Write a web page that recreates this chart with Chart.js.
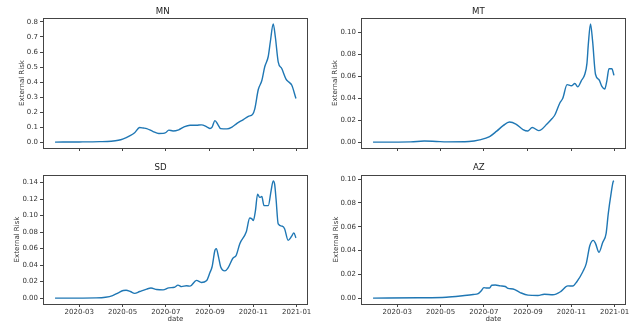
<!DOCTYPE html>
<html lang="en">
<head>
    <meta charset="UTF-8">
    <title>External Risk</title>
    <script src="https://cdn.jsdelivr.net/npm/chart.js@4.4.0/dist/chart.umd.min.js"></script>
    <style>
        body { margin: 0; background: #fff; }
        .panel { position: absolute; width: 320px; }
        .top { top: 0; height: 160px; }
        .bottom { top: 160px; height: 163px; }
        .left { left: 0; }
        .right { left: 320px; }
    </style>
</head>
<body>
    <div class="panel top left"><canvas id="mnChart"></canvas></div>
    <div class="panel top right"><canvas id="mtChart"></canvas></div>
    <div class="panel bottom left"><canvas id="sdChart"></canvas></div>
    <div class="panel bottom right"><canvas id="azChart"></canvas></div>

    <script>
        const xTickLabels = ['2020-03', '2020-05', '2020-07', '2020-09', '2020-11', '2021-01'];

        const mnDates = ['2020-01-27', '2020-03-01', '2020-03-30', '2020-04-15', '2020-04-25', '2020-05-02', '2020-05-11', '2020-05-18', '2020-05-25', '2020-05-30',
            '2020-06-04', '2020-06-13', '2020-06-21', '2020-06-27', '2020-07-01', '2020-07-05', '2020-07-11', '2020-07-19', '2020-07-26', '2020-08-04',
            '2020-08-13', '2020-08-20', '2020-08-28', '2020-09-01', '2020-09-04', '2020-09-08', '2020-09-12', '2020-09-16', '2020-09-25', '2020-10-02',
            '2020-10-09', '2020-10-18', '2020-10-25', '2020-10-31', '2020-11-03', '2020-11-08', '2020-11-13', '2020-11-17', '2020-11-22', '2020-11-25',
            '2020-11-29', '2020-12-02', '2020-12-06', '2020-12-11', '2020-12-17', '2020-12-21', '2020-12-25', '2020-12-31'];
        const mnRisk = [0, 0.001, 0.003, 0.006, 0.012, 0.022, 0.042, 0.062, 0.097, 0.094,
            0.090, 0.070, 0.057, 0.058, 0.064, 0.080, 0.074, 0.082, 0.100, 0.112,
            0.112, 0.115, 0.100, 0.091, 0.100, 0.143, 0.118, 0.090, 0.088, 0.100,
            0.125, 0.150, 0.172, 0.185, 0.220, 0.350, 0.410, 0.500, 0.570, 0.670,
            0.787, 0.700, 0.535, 0.490, 0.420, 0.400, 0.380, 0.290];

        const mtDates = ['2020-01-27', '2020-03-20', '2020-04-08', '2020-04-25', '2020-05-10', '2020-06-10', '2020-06-25', '2020-07-09', '2020-07-19', '2020-07-28',
            '2020-08-06', '2020-08-15', '2020-08-25', '2020-09-01', '2020-09-07', '2020-09-16', '2020-09-20', '2020-09-27', '2020-10-05', '2020-10-09',
            '2020-10-16', '2020-10-20', '2020-10-26', '2020-11-01', '2020-11-06', '2020-11-10', '2020-11-15', '2020-11-20', '2020-11-23', '2020-11-25',
            '2020-11-28', '2020-12-01', '2020-12-05', '2020-12-10', '2020-12-14', '2020-12-18', '2020-12-21', '2020-12-24', '2020-12-28', '2020-12-31'];
        const mtRisk = [0, 0.0002, 0.0010, 0.0006, 0.0002, 0.0005, 0.0020, 0.0050, 0.0100, 0.0150,
            0.0183, 0.0165, 0.0115, 0.0102, 0.0134, 0.0105, 0.0115, 0.0160, 0.0215, 0.0250,
            0.0360, 0.0400, 0.0525, 0.0515, 0.0535, 0.0505, 0.0560, 0.0620, 0.0720, 0.0900,
            0.1080, 0.0920, 0.0620, 0.0570, 0.0510, 0.0485, 0.0560, 0.0670, 0.0670, 0.0610];

        const sdDates = ['2020-01-27', '2020-03-25', '2020-04-07', '2020-04-17', '2020-04-25', '2020-05-02', '2020-05-06', '2020-05-12', '2020-05-18', '2020-05-25',
            '2020-06-04', '2020-06-10', '2020-06-18', '2020-06-27', '2020-07-05', '2020-07-13', '2020-07-18', '2020-07-23', '2020-07-30', '2020-08-04',
            '2020-08-13', '2020-08-20', '2020-08-27', '2020-09-01', '2020-09-04', '2020-09-08', '2020-09-10', '2020-09-13', '2020-09-16', '2020-09-22',
            '2020-09-26', '2020-10-03', '2020-10-08', '2020-10-13', '2020-10-22', '2020-10-27', '2020-10-30', '2020-11-01', '2020-11-04', '2020-11-07',
            '2020-11-10', '2020-11-13', '2020-11-16', '2020-11-22', '2020-11-26', '2020-11-29', '2020-12-01', '2020-12-03', '2020-12-06', '2020-12-12',
            '2020-12-15', '2020-12-20', '2020-12-25', '2020-12-28', '2020-12-31'];
        const sdRisk = [0, 0.0003, 0.001, 0.003, 0.0065, 0.0092, 0.0095, 0.008, 0.0058, 0.008,
            0.0110, 0.0122, 0.0105, 0.0100, 0.0125, 0.0132, 0.0158, 0.0140, 0.0150, 0.0145,
            0.0215, 0.0190, 0.0210, 0.0310, 0.0380, 0.0580, 0.0600, 0.0500, 0.0380, 0.0330,
            0.0360, 0.0480, 0.0520, 0.0660, 0.0800, 0.0970, 0.0960, 0.0940, 0.1060, 0.1260,
            0.1220, 0.1230, 0.1120, 0.1120, 0.1300, 0.1420, 0.1380, 0.1200, 0.0900, 0.0870,
            0.0840, 0.0700, 0.0750, 0.0790, 0.0730];

        const azDates = ['2020-01-27', '2020-03-30', '2020-05-09', '2020-06-01', '2020-06-16', '2020-06-23', '2020-06-27', '2020-07-01', '2020-07-05', '2020-07-09',
            '2020-07-12', '2020-07-17', '2020-07-24', '2020-07-31', '2020-08-04', '2020-08-11', '2020-08-21', '2020-09-01', '2020-09-15', '2020-09-24',
            '2020-10-06', '2020-10-17', '2020-10-27', '2020-11-03', '2020-11-09', '2020-11-17', '2020-11-22', '2020-11-27', '2020-12-02', '2020-12-05',
            '2020-12-10', '2020-12-15', '2020-12-20', '2020-12-23', '2020-12-27', '2020-12-30', '2020-12-31'];
        const azRisk = [0, 0.0003, 0.0008, 0.0020, 0.0030, 0.0038, 0.0060, 0.0088, 0.0085, 0.0085,
            0.0108, 0.0110, 0.0103, 0.0098, 0.0082, 0.0077, 0.0047, 0.0025, 0.0022, 0.0033,
            0.0028, 0.0055, 0.0103, 0.0102, 0.0140, 0.0220, 0.0290, 0.0440, 0.0485, 0.0460,
            0.0385, 0.0465, 0.0545, 0.0710, 0.0880, 0.0980, 0.0985];

        // days since 2020-01-01
        const dayOf = s => (Date.UTC(+s.slice(0, 4), +s.slice(5, 7) - 1, +(s.slice(8, 10) || 1)) - Date.UTC(2020, 0, 1)) / 864e5;

        const allDays = [mnDates, mtDates, sdDates, azDates].flat().map(dayOf);
        const dMin = Math.min(...allDays), dMax = Math.max(...allDays);
        const xMargin = (dMax - dMin) * 0.05;

        const tickFont = { family: 'DejaVu Sans', size: 7 };
        const labelFont = { family: 'DejaVu Sans', size: 7, lineHeight: 1.2 };

        const frame = {
            id: 'frame',
            afterDatasetsDraw(chart) {
                const { ctx, chartArea: a } = chart;
                ctx.save();
                ctx.strokeStyle = '#444';
                ctx.lineWidth = 1;
                ctx.strokeRect(Math.round(a.left) + 0.5, Math.round(a.top) + 0.5,
                    Math.round(a.right - a.left) - 1, Math.round(a.bottom - a.top));
                ctx.restore();
            }
        };

        const createPanel = (id, title, dates, risk, o) => {
            const yMax = Math.max(...risk), yMin = Math.min(...risk);
            const yMargin = (yMax - yMin) * 0.05;
            new Chart(document.getElementById(id), {
                type: 'line',
                data: {
                    datasets: [{
                        data: dates.map((d, i) => ({ x: dayOf(d), y: risk[i] })),
                        borderColor: '#1f77b4',
                        borderWidth: 1.4,
                        pointRadius: 0,
                        cubicInterpolationMode: 'monotone'
                    }]
                },
                options: {
                    responsive: true,
                    maintainAspectRatio: false,
                    animation: false,
                    layout: { padding: { left: o.padLeft, right: o.padRight, top: 0, bottom: 0 } },
                    plugins: {
                        legend: { display: false },
                        tooltip: { enabled: false },
                        title: {
                            display: true,
                            text: title,
                            color: '#222',
                            font: { family: 'DejaVu Sans', size: 8.6, weight: 'normal', lineHeight: 1.2 },
                            padding: o.titlePad
                        }
                    },
                    scales: {
                        x: {
                            type: 'linear',
                            min: dMin - xMargin,
                            max: dMax + xMargin,
                            afterBuildTicks: s => { s.ticks = xTickLabels.map(t => ({ value: dayOf(t) })); },
                            afterFit: s => { s.height = o.xHeight; s.paddingLeft = 0; s.paddingRight = 0; },
                            grid: { drawOnChartArea: false, drawTicks: true, tickLength: 3, color: '#444' },
                            border: { display: false },
                            ticks: {
                                autoSkip: false,
                                maxRotation: 0,
                                padding: 1,
                                color: '#333',
                                font: tickFont,
                                callback: (v, i) => o.showDates ? xTickLabels[i] : ''
                            },
                            title: { display: o.showDates, text: 'date', color: '#333', font: labelFont, padding: { top: 0, bottom: -0.5 } }
                        },
                        y: {
                            min: yMin - yMargin,
                            max: yMax + yMargin,
                            afterFit: s => { s.width = o.yWidth; s.paddingTop = 0; s.paddingBottom = 0; },
                            grid: { drawOnChartArea: false, drawTicks: true, tickLength: 3, color: '#444' },
                            border: { display: false },
                            ticks: {
                                stepSize: o.step,
                                includeBounds: false,
                                padding: 2,
                                color: '#333',
                                font: tickFont,
                                callback: v => v.toFixed(o.decimals)
                            },
                            title: { display: true, text: 'External Risk', color: '#333', font: labelFont, padding: 0 }
                        }
                    }
                },
                plugins: [frame]
            });
        };

        const topTitle = { top: 7, bottom: 0.7 };
        const bottomTitle = { top: 3.1, bottom: 1.6 };

        createPanel('mnChart', 'MN', mnDates, mnRisk, { step: 0.1, decimals: 1, padLeft: 17.5, yWidth: 25.5, padRight: 12, titlePad: topTitle, xHeight: 12, showDates: false });
        createPanel('mtChart', 'MT', mtDates, mtRisk, { step: 0.02, decimals: 2, padLeft: 10.8, yWidth: 30.2, padRight: 14, titlePad: topTitle, xHeight: 12, showDates: false });
        createPanel('sdChart', 'SD', sdDates, sdRisk, { step: 0.02, decimals: 2, padLeft: 13.3, yWidth: 29.7, padRight: 12, titlePad: bottomTitle, xHeight: 19, showDates: true });
        createPanel('azChart', 'AZ', azDates, azRisk, { step: 0.02, decimals: 2, padLeft: 11.6, yWidth: 29.4, padRight: 14, titlePad: bottomTitle, xHeight: 19, showDates: true });
    </script>
</body>
</html>
